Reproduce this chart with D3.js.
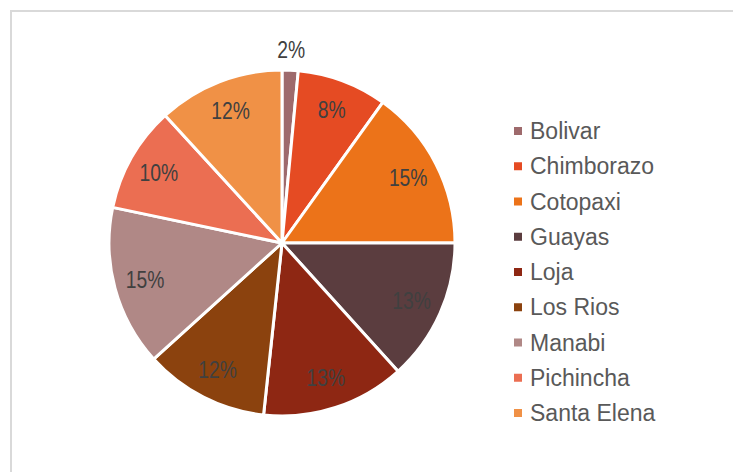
<!DOCTYPE html>
<html>
<head>
<meta charset="utf-8">
<script src="https://cdn.jsdelivr.net/npm/d3@7"></script>
<style>
  html, body { margin: 0; padding: 0; background: #fff; }
  #pieChart { width: 733px; height: 472px; }
</style>
</head>
<body>
<div id="pieChart"></div>
<script>
// provincias y porcentajes
const provinces = ["Bolivar", "Chimborazo", "Cotopaxi", "Guayas", "Loja", "Los Rios", "Manabi", "Pichincha", "Santa Elena"];
const shares = [1.5, 8.4, 15.1, 13.3, 13.4, 11.6, 15.0, 9.9, 11.8];
const sliceColors = ["#9E6A6C", "#E54B23", "#EC7319", "#5B3D3F", "#8E2713", "#8B420E", "#B08886", "#EB6E52", "#F09146"];

const width = 733, height = 472;
const cx = 282, cy = 243, radius = 173;

const svg = d3.select("#pieChart").append("svg")
	.attr("width", width)
	.attr("height", height);

// marco del area del grafico
svg.append("rect")
	.attr("x", 11)
	.attr("y", 11)
	.attr("width", width + 20)
	.attr("height", height + 20)
	.attr("fill", "#fff")
	.attr("stroke", "#D9D9D9")
	.attr("stroke-width", 2);

const data = provinces.map((name, i) => ({ name, value: shares[i] }));
const total = d3.sum(data, d => d.value);

const color = d3.scaleOrdinal().domain(provinces).range(sliceColors);
const pie = d3.pie().sort(null).value(d => d.value);
const arc = d3.arc().innerRadius(0).outerRadius(radius);
const labelArc = d3.arc().innerRadius(radius * 0.82).outerRadius(radius * 0.82);
const outerLabelArc = d3.arc().innerRadius(radius + 20).outerRadius(radius + 20);

const g = svg.append("g").attr("transform", `translate(${cx},${cy})`);
const pieData = pie(data);

g.selectAll("path")
	.data(pieData)
	.join("path")
	.attr("d", arc)
	.attr("fill", d => color(d.data.name))
	.attr("stroke", "#fff")
	.attr("stroke-width", 3)
	.attr("stroke-linejoin", "round");

// etiquetas de porcentaje (las pequenas van afuera), letra angosta
g.selectAll("text.pct")
	.data(pieData)
	.join("text")
	.attr("class", "pct")
	.attr("transform", d => `translate(${(d.data.value / total < 0.03 ? outerLabelArc : labelArc).centroid(d)}) scale(0.84,1)`)
	.attr("text-anchor", "middle")
	.attr("dominant-baseline", "central")
	.style("font-family", "'Liberation Sans', Arial, sans-serif")
	.style("font-size", "23px")
	.style("fill", "#404040")
	.text(d => `${Math.round(d.data.value / total * 100)}%`);

// leyenda
const legend = svg.append("g").attr("transform", "translate(514,131)");
const rowH = 35.25;

legend.selectAll("rect")
	.data(provinces)
	.join("rect")
	.attr("x", 0)
	.attr("y", (d, i) => i * rowH - 4)
	.attr("width", 8)
	.attr("height", 8)
	.attr("fill", d => color(d));

legend.selectAll("text")
	.data(provinces)
	.join("text")
	.attr("x", 16)
	.attr("y", (d, i) => i * rowH)
	.attr("dominant-baseline", "central")
	.style("font-family", "'Liberation Sans', Arial, sans-serif")
	.style("font-size", "23px")
	.style("fill", "#595959")
	.text(d => d);
</script>
</body>
</html>
